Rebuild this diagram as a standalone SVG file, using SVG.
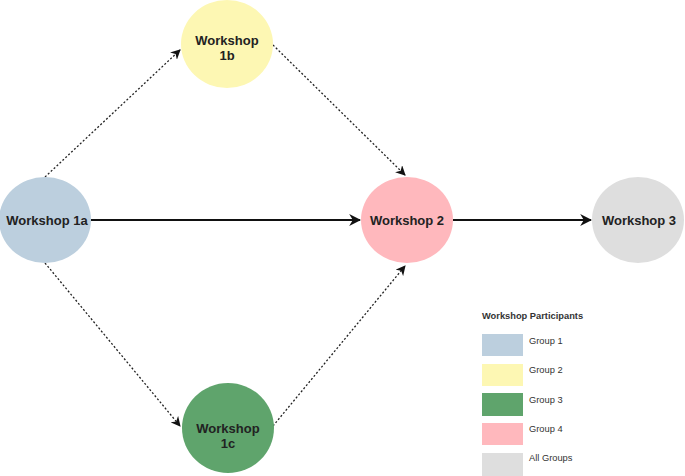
<svg xmlns="http://www.w3.org/2000/svg" width="685" height="476" viewBox="0 0 685 476">
<style>
.node text{font-family:"Liberation Sans",Arial,sans-serif;font-weight:bold;font-size:13px;fill:#222;text-anchor:middle}
.dot{stroke:#222;stroke-width:1.3;stroke-dasharray:2 2;fill:none}
.sol{stroke:#111;stroke-width:2;fill:none}
.leg{font-family:"Liberation Sans",Arial,sans-serif;font-size:9.3px;fill:#333}
</style>
<defs>
<marker id="ah" viewBox="0 0 10 10" refX="9" refY="5" markerWidth="10" markerHeight="10" markerUnits="userSpaceOnUse" orient="auto"><path d="M0,0 L10,5 L0,10 L3,5 Z" fill="#111"/></marker>
<marker id="ah2" viewBox="0 0 10 10" refX="9" refY="5" markerWidth="12" markerHeight="12" markerUnits="userSpaceOnUse" orient="auto"><path d="M0,0 L10,5 L0,10 L3,5 Z" fill="#111"/></marker>
</defs>
<rect width="685" height="476" fill="#fff"/>
<g id="connectors">
<path class="dot" d="M45,177 L180,50" marker-end="url(#ah)"/>
<path class="dot" d="M45,263 L180,426" marker-end="url(#ah)"/>
<path class="dot" d="M273,45 L405,175" marker-end="url(#ah)"/>
<path class="dot" d="M273,426 L405,266" marker-end="url(#ah)"/>
<path class="sol" d="M91,220 L360,220" marker-end="url(#ah2)"/>
<path class="sol" d="M453,220 L591,220" marker-end="url(#ah2)"/>
</g>
<g id="w1a" class="node"><ellipse cx="45" cy="220" rx="46" ry="43" fill="#bccfde"/><text x="47" y="225">Workshop 1a</text></g>
<g id="w1b" class="node"><ellipse cx="227" cy="44" rx="46" ry="44" fill="#fdf7b3"/><text x="227" y="45">Workshop</text><text x="227" y="60">1b</text></g>
<g id="w1c" class="node"><ellipse cx="228" cy="428" rx="46" ry="45" fill="#5fa46c"/><text x="228" y="433">Workshop</text><text x="228" y="448">1c</text></g>
<g id="w2" class="node"><ellipse cx="407" cy="220" rx="46" ry="43" fill="#ffb8bd"/><text x="407" y="225">Workshop 2</text></g>
<g id="w3" class="node"><ellipse cx="638" cy="220" rx="46" ry="43" fill="#dedede"/><text x="639" y="225">Workshop 3</text></g>
<g id="legend">
<text class="leg" x="482" y="319" font-weight="bold" font-size="9.8px" fill="#222">Workshop Participants</text>
<rect x="482" y="334" width="41" height="22" fill="#bccfde"/><text class="leg" x="529" y="344">Group 1</text>
<rect x="482" y="364" width="41" height="22" fill="#fdf7b3"/><text class="leg" x="529" y="373">Group 2</text>
<rect x="482" y="393" width="41" height="23" fill="#5fa46c"/><text class="leg" x="529" y="403">Group 3</text>
<rect x="482" y="423" width="41" height="22" fill="#ffb8bd"/><text class="leg" x="529" y="432">Group 4</text>
<rect x="482" y="453" width="41" height="23" fill="#dedede"/><text class="leg" x="529" y="461">All Groups</text>
</g>
</svg>
